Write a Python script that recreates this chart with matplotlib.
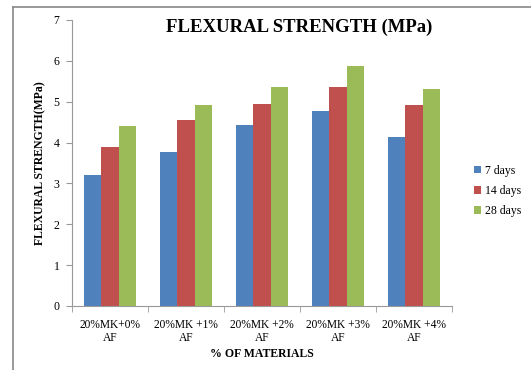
import numpy as np
import matplotlib
matplotlib.use("Agg")
import matplotlib.pyplot as plt
from matplotlib.lines import Line2D

# data
categories = ["20%MK+0%\nAF", "20%MK +1%\nAF", "20%MK +2%\nAF",
              "20%MK +3%\nAF", "20%MK +4%\nAF"]
days_7 = [3.2, 3.78, 4.42, 4.78, 4.13]
days_14 = [3.9, 4.56, 4.94, 5.35, 4.92]
days_28 = [4.4, 4.93, 5.37, 5.88, 5.3]
series_names = ["7 days", "14 days", "28 days"]
series_colors = ["#4F81BD", "#C0504D", "#9BBB59"]

plt.rcParams['font.family'] = ['Liberation Serif', 'DejaVu Serif']

fig = plt.figure(figsize=(5.31, 3.70), dpi=100)
ax = fig.add_axes([72/531, 1 - 306/370, (452 - 72)/531, (306 - 20)/370])

x = np.arange(len(categories))
w = 0.225
for k, vals in enumerate([days_7, days_14, days_28]):
    ax.bar(x + (k - 1) * w, vals, width=w, color=series_colors[k],
           label=series_names[k], linewidth=0)

ax.set_xlim(-0.5, len(categories) - 0.5)
ax.set_ylim(0, 7)
ax.set_yticks(range(0, 8))
ax.set_xticks(np.arange(-0.5, len(categories), 1.0), minor=True)
ax.set_xticks(x)
ax.set_xticklabels(categories, fontsize=8.3, linespacing=1.15)
ax.tick_params(axis='x', which='major', length=0, pad=9)
ax.tick_params(axis='x', which='minor', length=4, color='#999999')
ax.tick_params(axis='y', length=4, color='#999999', labelsize=8.5, pad=5)

for s in ['top', 'right']:
    ax.spines[s].set_visible(False)
for s in ['left', 'bottom']:
    ax.spines[s].set_color('#999999')
    ax.spines[s].set_linewidth(0.8)

ax.set_xlabel("% OF MATERIALS", fontsize=8.5, fontweight='bold', labelpad=3)
ax.set_ylabel("FLEXURAL STRENGTH(MPa)", fontsize=8.5, fontweight='bold',
              labelpad=5)
fig.text(299/531, 1 - 27/370, "FLEXURAL STRENGTH (MPa)", ha='center',
         va='center', fontsize=13.5, fontweight='bold')

ax.legend(loc='center left', bbox_to_anchor=(1.03, 0.402), frameon=False,
          fontsize=8.5, handlelength=0.6, handleheight=0.6,
          handletextpad=0.3, labelspacing=0.7)

# outer frame lines (top and left)
fig.add_artist(Line2D([12.5/531, 12.5/531], [0, 1 - 7/370],
                      transform=fig.transFigure, color='#888888', lw=1.2))
fig.add_artist(Line2D([12.5/531, 1], [1 - 7/370, 1 - 7/370],
                      transform=fig.transFigure, color='#888888', lw=1.2))

fig.savefig("out.png", dpi=100)
